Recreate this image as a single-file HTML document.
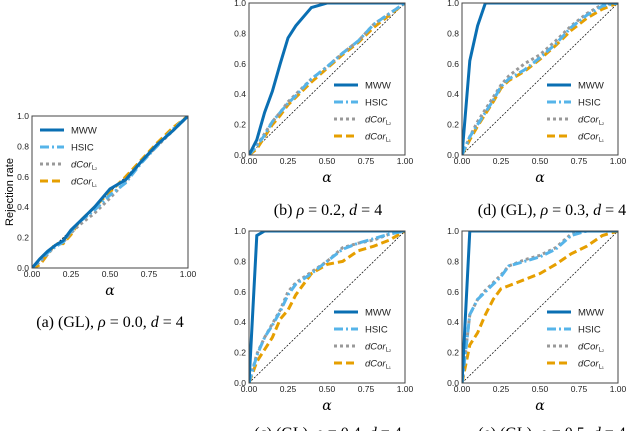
<!DOCTYPE html>
<html><head><meta charset="utf-8"><style>
body{margin:0;background:#fff;width:640px;height:431px;overflow:hidden}
svg{display:block}
</style></head><body>
<svg id="fig" width="640" height="431" xmlns="http://www.w3.org/2000/svg"></svg>
<script>
const xs=[0,0.05,0.1,0.15,0.2,0.25,0.3,0.4,0.5,0.6,0.7,0.8,0.9,1.0];
const xTicks=["0.00","0.25","0.50","0.75","1.00"];
const yTicks=["0.0","0.2","0.4","0.6","0.8","1.0"];
const aMWW=[0,0.06,0.11,0.15,0.18,0.25,0.3,0.4,0.52,0.58,0.7,0.81,0.9,1];
const aHSIC=[0,0.05,0.1,0.14,0.17,0.24,0.3,0.38,0.48,0.56,0.69,0.8,0.91,1];
const aL2=[0,0.04,0.09,0.15,0.17,0.23,0.28,0.36,0.46,0.57,0.7,0.8,0.9,1];
const aL1=[0,0.02,0.09,0.16,0.16,0.22,0.3,0.4,0.5,0.6,0.71,0.82,0.92,1];
const bMWW=[0,0.1,0.28,0.42,0.6,0.77,0.85,0.97,1,1,1,1,1,1];
const bHSIC=[0,0.06,0.13,0.22,0.28,0.34,0.39,0.5,0.58,0.67,0.75,0.86,0.93,1];
const bL2=[0,0.06,0.14,0.22,0.28,0.35,0.4,0.5,0.58,0.67,0.75,0.86,0.93,1];
const bL1=[0,0.04,0.12,0.2,0.26,0.33,0.38,0.48,0.57,0.66,0.74,0.84,0.92,1];
const dMWW=[0,0.62,0.85,1,1,1,1,1,1,1,1,1,1,1];
const dHSIC=[0,0.12,0.2,0.28,0.36,0.45,0.5,0.56,0.64,0.73,0.84,0.92,0.98,1];
const dL2=[0,0.12,0.22,0.3,0.38,0.46,0.52,0.6,0.66,0.75,0.85,0.93,0.99,1];
const dL1=[0,0.1,0.19,0.27,0.35,0.44,0.49,0.55,0.63,0.72,0.82,0.9,0.96,1];
const cMWW=[0,0.97,1,1,1,1,1,1,1,1,1,1,1,1];
const cHSIC=[0,0.18,0.3,0.38,0.47,0.58,0.65,0.72,0.8,0.88,0.92,0.95,0.98,1];
const cL2=[0,0.19,0.3,0.39,0.48,0.6,0.66,0.73,0.8,0.89,0.92,0.94,0.98,1];
const cL1=[0,0.14,0.22,0.3,0.42,0.48,0.58,0.72,0.78,0.8,0.87,0.9,0.94,1];
const eMWW=[0,1,1,1,1,1,1,1,1,1,1,1,1,1];
const eHSIC=[0,0.45,0.55,0.6,0.65,0.7,0.77,0.8,0.83,0.88,0.97,1,1,1];
const eL2=[0,0.45,0.55,0.61,0.66,0.71,0.77,0.81,0.84,0.89,0.98,1,1,1];
const eL1=[0,0.25,0.33,0.45,0.55,0.62,0.64,0.68,0.72,0.78,0.85,0.9,0.97,1];

const NS="http://www.w3.org/2000/svg";
const svg=document.getElementById('fig');
function mk(tag,attrs,parent){const e=document.createElementNS(NS,tag);for(const k in attrs)e.setAttribute(k,attrs[k]);(parent||svg).appendChild(e);return e;}
const styles={
 MWW:{stroke:"#0a6fb3",w:3,dash:null,name:"MWW"},
 HSIC:{stroke:"#56b4e9",w:3,dash:"9,3,2,3",name:"HSIC"},
 L2:{stroke:"#999999",w:3,dash:"3,3",name:"dCor"},
 L1:{stroke:"#e69f00",w:3,dash:"8,4",name:"dCor"}
};
function panel(id,x0,y0,w,h,series,legendPos,ylabel){
 const g=mk('g',{});
 
 
 const sx=v=>x0+v*w, sy=v=>y0+h-v*h;
 const clipId='clip'+id;
 const cp=mk('clipPath',{id:clipId},g);mk('rect',{x:x0,y:y0,width:w,height:h},cp);
 const diag=mk('line',{x1:sx(0),y1:sy(0),x2:sx(1),y2:sy(1),stroke:"#000","stroke-width":0.7,"stroke-dasharray":"2,1.5"},g);
 
 
 const order=['L1','L2','HSIC','MWW'];
 order.forEach(k=>{
  const vals=series[k],st=styles[k];
  const p=mk('polyline',{points:xs.map((x,i)=>sx(x)+","+sy(vals[i])).join(" "),fill:"none",stroke:st.stroke,"stroke-width":st.w,"clip-path":"url(#"+clipId+")"},g);
  if(st.dash)p.setAttribute('stroke-dasharray',st.dash);
  
  
 });
 const fr=mk('rect',{x:x0,y:y0,width:w,height:h,fill:"none",stroke:"#444","stroke-width":1},g);
 
 
 xTicks.forEach((t,i)=>{const tx=mk('text',{x:sx(i/4),y:y0+h+9,"font-family":"Liberation Sans, sans-serif","font-size":8.5,"text-anchor":"middle",fill:"#222"},g);tx.textContent=t;
  
  });
 yTicks.forEach((t,i)=>{const tx=mk('text',{x:x0-3,y:sy(i/5)+3,"font-family":"Liberation Sans, sans-serif","font-size":8.5,"text-anchor":"end",fill:"#222"},g);tx.textContent=t;
  
  });
 const xl=mk('text',{x:sx(0.5),y:y0+h+27,"font-family":"DejaVu Serif, serif","font-style":"italic","font-size":14,"text-anchor":"middle"},g);xl.textContent="α";
 
 
 if(ylabel){const yl=mk('text',{x:0,y:0,transform:"translate(13,"+(y0+h/2)+") rotate(-90)","font-family":"Liberation Sans, sans-serif","font-size":11,"text-anchor":"middle"},g);yl.textContent="Rejection rate";
  
  }
 const lg=mk('g',{},g);
 
 
 ['MWW','HSIC','L2','L1'].forEach((k,i)=>{
  const st=styles[k],ly=legendPos[1]+i*legendPos[2];
  const ln=mk('line',{x1:legendPos[0],y1:ly,x2:legendPos[0]+24,y2:ly,stroke:st.stroke,"stroke-width":3},lg);
  if(st.dash)ln.setAttribute('stroke-dasharray',st.dash);
  
  
  const t=mk('text',{x:legendPos[0]+31,y:ly+3.5,"font-family":"Liberation Sans, sans-serif","font-size":9.5,fill:"#222"},lg);
  if(k==='L2'||k==='L1'){t.setAttribute('font-style','italic');t.innerHTML='dCor<tspan font-size="6" dy="2" font-style="normal">'+(k==='L2'?'L₂':'L₁')+'</tspan>';}
  else t.textContent=st.name;
  
  
 });
}
function caption(x,y,txt,name){const t=mk('text',{x:x,y:y,"font-family":"Liberation Serif, serif","font-size":16,"text-anchor":"middle"});t.innerHTML=txt;
 
 }
panel('a',32,116,156,152,{MWW:aMWW,HSIC:aHSIC,L2:aL2,L1:aL1},[40,130,17],true);
panel('b',249,3,156,152,{MWW:bMWW,HSIC:bHSIC,L2:bL2,L1:bL1},[334,85,17],false);
panel('d',462,3,156,152,{MWW:dMWW,HSIC:dHSIC,L2:dL2,L1:dL1},[547,85,17],false);
panel('c',249,231,156,152,{MWW:cMWW,HSIC:cHSIC,L2:cL2,L1:cL1},[334,312,17],false);
panel('e',462,231,156,152,{MWW:eMWW,HSIC:eHSIC,L2:eL2,L1:eL1},[547,312,17],false);
caption(110,327,'(a) (GL), <tspan font-style="italic">ρ</tspan> = 0.0, <tspan font-style="italic">d</tspan> = 4','caption-a');
caption(328,215,'(b) <tspan font-style="italic">ρ</tspan> = 0.2, <tspan font-style="italic">d</tspan> = 4','caption-b');
caption(552,215,'(d) (GL), <tspan font-style="italic">ρ</tspan> = 0.3, <tspan font-style="italic">d</tspan> = 4','caption-d');
caption(328,438,'(c) (GL), <tspan font-style="italic">ρ</tspan> = 0.4, <tspan font-style="italic">d</tspan> = 4','caption-c');
caption(552,438,'(e) (GL), <tspan font-style="italic">ρ</tspan> = 0.5, <tspan font-style="italic">d</tspan> = 4','caption-e');
</script>
</body></html>
